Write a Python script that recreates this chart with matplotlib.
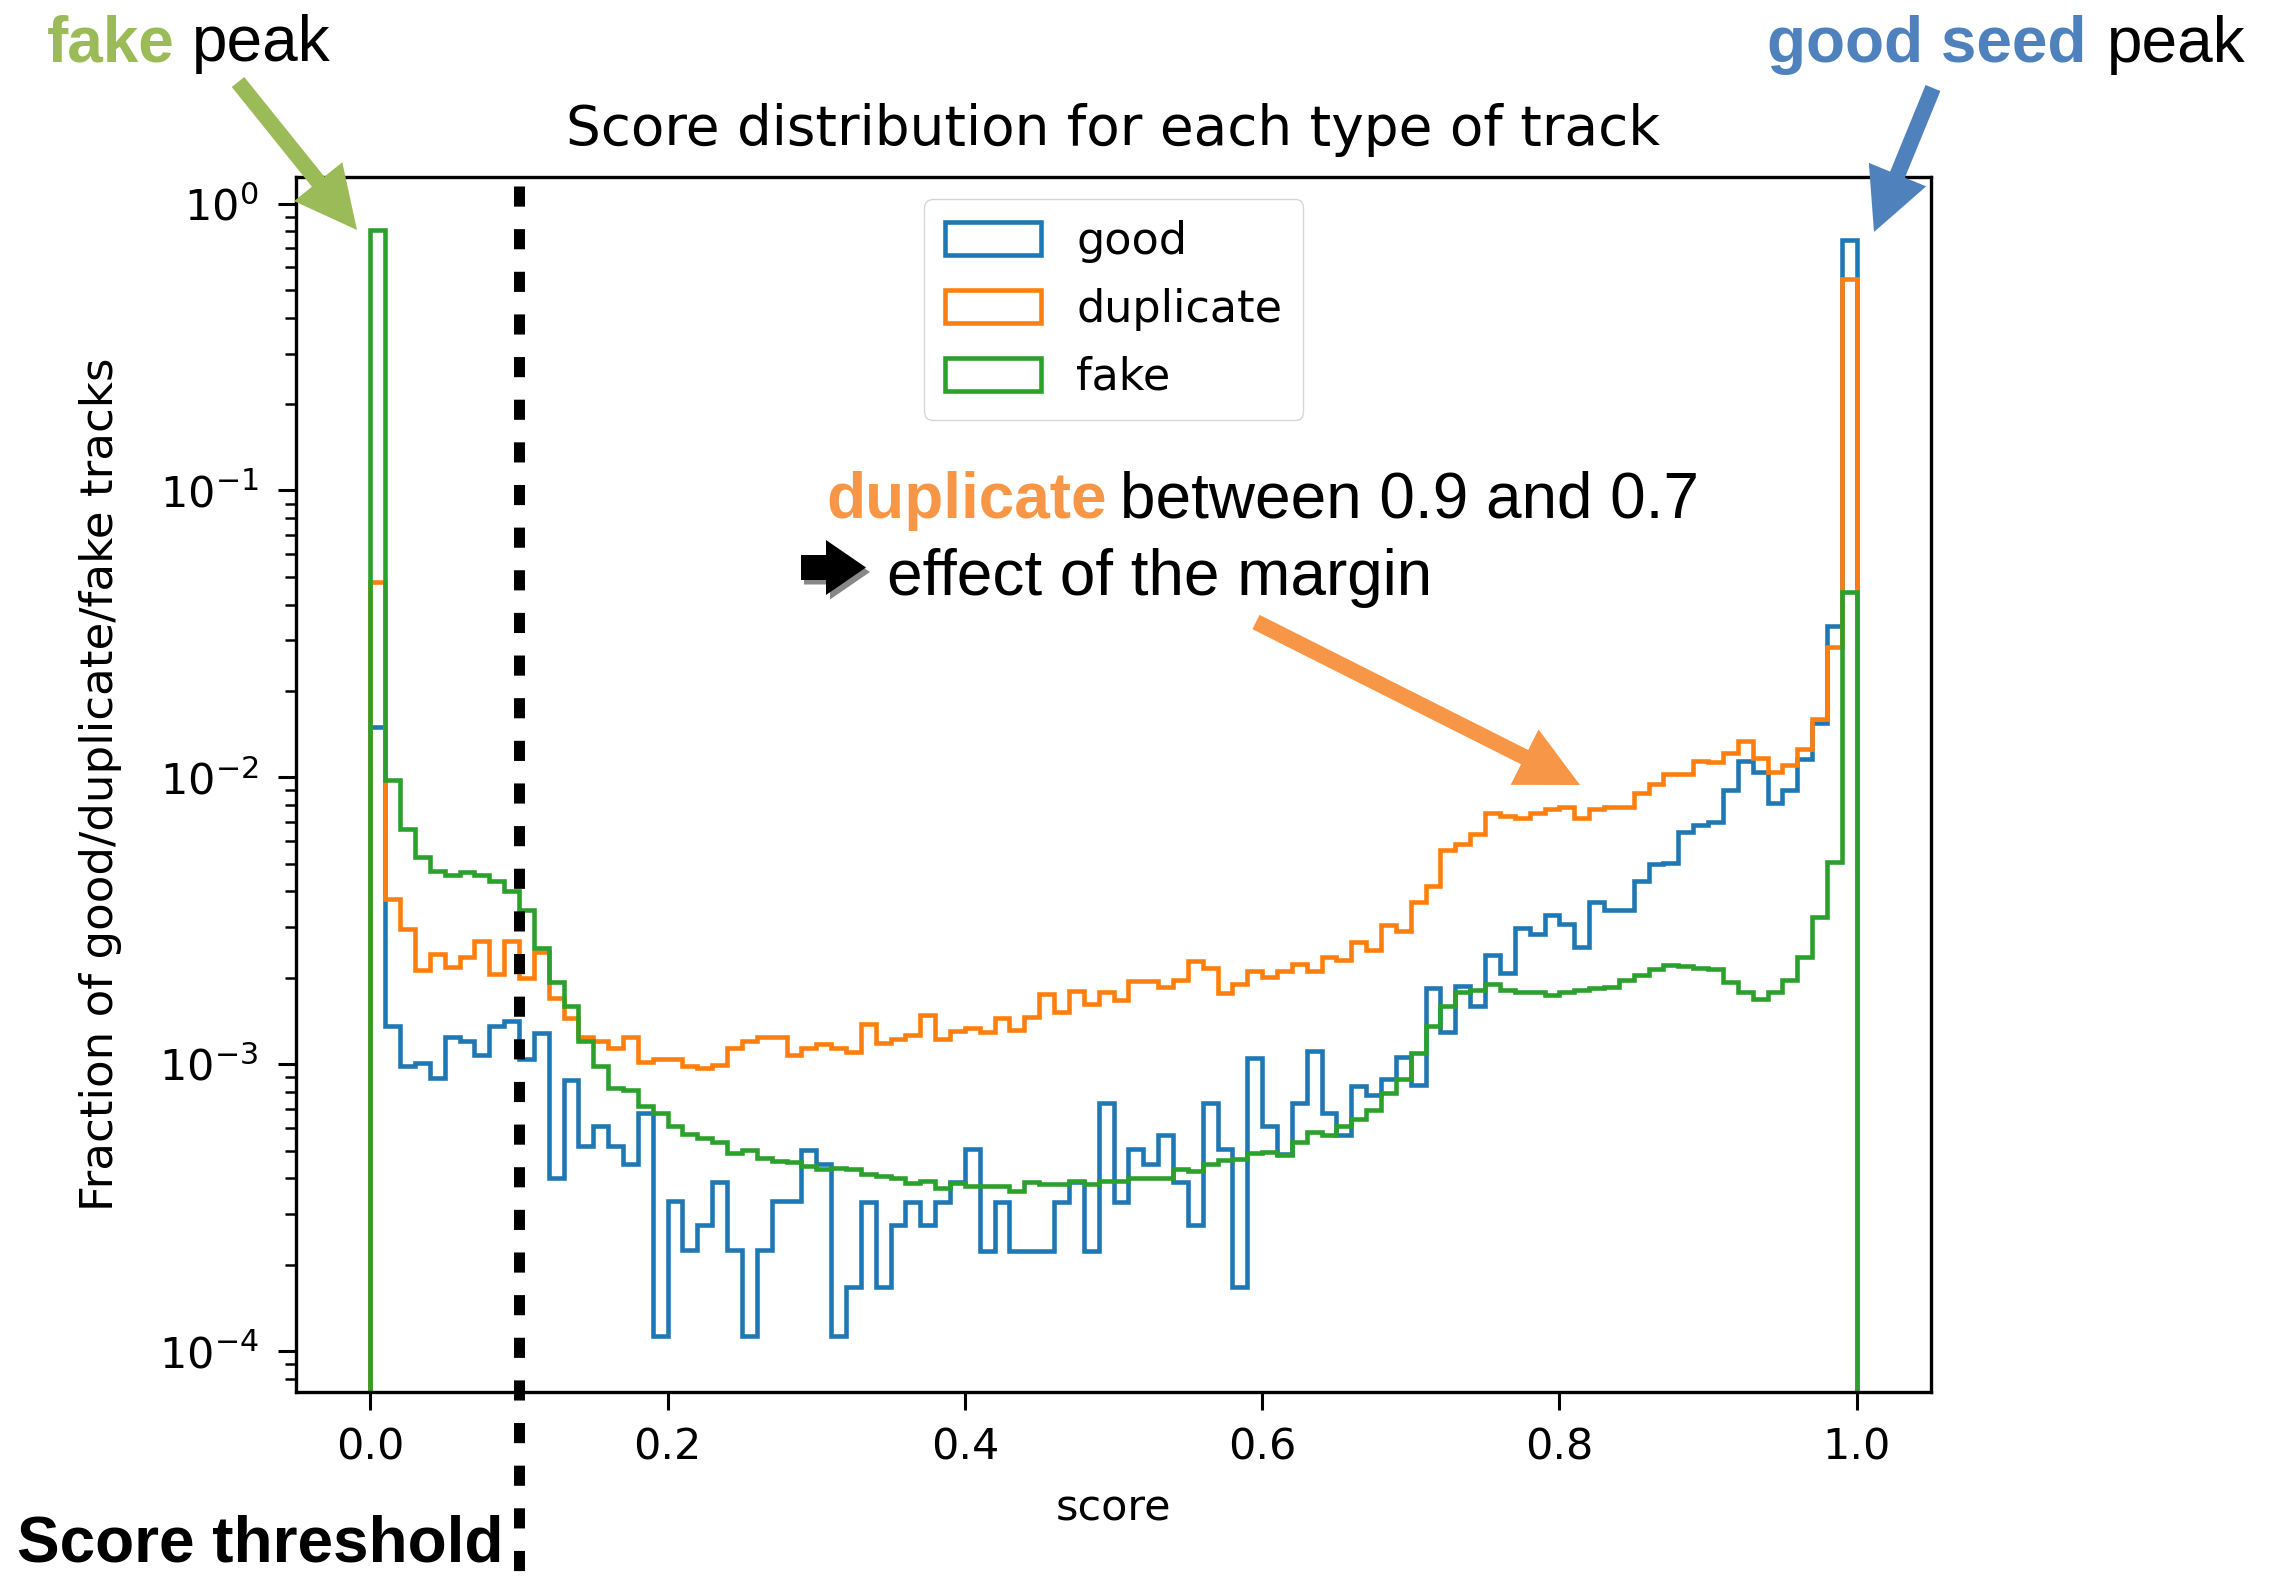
import numpy as np
import matplotlib
matplotlib.use("Agg")
import matplotlib.pyplot as plt
import matplotlib.transforms as mtransforms
from matplotlib.patches import FancyArrow
from matplotlib.lines import Line2D

# ---------------- data ----------------
bin_edges = np.linspace(0.0, 1.0, 101)
series_labels = ["good", "duplicate", "fake"]
threshold = 0.1

good = [
    0.0150, 0.00136, 0.000987, 0.00101, 0.000894, 0.00124, 0.00120, 0.00108, 0.00136, 0.00141,
    0.00104, 0.00128, 0.000400, 0.000878, 0.000517, 0.000608, 0.000517, 0.000448, 0.000678, 0.000113,
    0.000334, 0.000226, 0.000275, 0.000387, 0.000226, 0.000113, 0.000226, 0.000334, 0.000334, 0.000501,
    0.000448, 0.000113, 0.000167, 0.000331, 0.000167, 0.000276, 0.000331, 0.000276, 0.000331, 0.000388,
    0.000508, 0.000223, 0.000331, 0.000223, 0.000223, 0.000223, 0.000331, 0.000388, 0.000223, 0.000731,
    0.000331, 0.000508, 0.000448, 0.000565, 0.000388, 0.000276, 0.000731, 0.000508, 0.000167, 0.00105,
    0.000607, 0.000485, 0.000731, 0.00111, 0.000677, 0.000565, 0.000838, 0.000780, 0.000885, 0.00106,
    0.000849, 0.00184, 0.00129, 0.00188, 0.00160, 0.00241, 0.00208, 0.00298, 0.00284, 0.00330,
    0.00309, 0.00257, 0.00367, 0.00345, 0.00345, 0.00436, 0.00497, 0.00504, 0.00644, 0.00680,
    0.00699, 0.00904, 0.0114, 0.0104, 0.00813, 0.00904, 0.0116, 0.0155, 0.0338, 0.747,
]

duplicate = [
    0.0478, 0.00377, 0.00295, 0.00213, 0.00243, 0.00218, 0.00236, 0.00268, 0.00207, 0.00268,
    0.00200, 0.00246, 0.00170, 0.00145, 0.00124, 0.00120, 0.00114, 0.00124, 0.00102, 0.00104,
    0.00104, 0.000987, 0.000968, 0.000997, 0.00114, 0.00120, 0.00124, 0.00124, 0.00108, 0.00114,
    0.00118, 0.00114, 0.00110, 0.00138, 0.00119, 0.00122, 0.00126, 0.00149, 0.00122, 0.00131,
    0.00134, 0.00129, 0.00145, 0.00132, 0.00146, 0.00175, 0.00152, 0.00180, 0.00162, 0.00178,
    0.00168, 0.00195, 0.00195, 0.00186, 0.00196, 0.00229, 0.00216, 0.00177, 0.00190, 0.00211,
    0.00202, 0.00212, 0.00223, 0.00212, 0.00236, 0.00231, 0.00266, 0.00250, 0.00306, 0.00292,
    0.00367, 0.00419, 0.00558, 0.00587, 0.00636, 0.00748, 0.00734, 0.00719, 0.00748, 0.00773,
    0.00789, 0.00719, 0.00773, 0.00789, 0.00789, 0.00882, 0.00949, 0.0103, 0.0103, 0.0114,
    0.0113, 0.0122, 0.0134, 0.0117, 0.0104, 0.0110, 0.0125, 0.0160, 0.0284, 0.544,
]

fake = [
    0.807, 0.00975, 0.00660, 0.00527, 0.00473, 0.00455, 0.00466, 0.00455, 0.00434, 0.00402,
    0.00346, 0.00255, 0.00194, 0.00159, 0.00120, 0.000988, 0.000823, 0.000813, 0.000715, 0.000678,
    0.000608, 0.000571, 0.000552, 0.000534, 0.000492, 0.000501, 0.000470, 0.000461, 0.000455, 0.000441,
    0.000432, 0.000433, 0.000432, 0.000414, 0.000409, 0.000400, 0.000385, 0.000391, 0.000371, 0.000385,
    0.000377, 0.000377, 0.000377, 0.000361, 0.000388, 0.000381, 0.000381, 0.000391, 0.000381, 0.000391,
    0.000391, 0.000400, 0.000400, 0.000402, 0.000432, 0.000425, 0.000449, 0.000465, 0.000469, 0.000490,
    0.000493, 0.000482, 0.000536, 0.000579, 0.000566, 0.000607, 0.000642, 0.000690, 0.000796, 0.000885,
    0.00109, 0.00136, 0.00160, 0.00178, 0.00181, 0.00191, 0.00181, 0.00179, 0.00178, 0.00174,
    0.00178, 0.00181, 0.00185, 0.00186, 0.00197, 0.00205, 0.00214, 0.00222, 0.00220, 0.00217,
    0.00214, 0.00194, 0.00178, 0.00169, 0.00178, 0.00197, 0.00236, 0.00325, 0.00507, 0.0442,
]

# ---------------- figure ----------------
W, H, DPI = 2276, 1576, 100
fig = plt.figure(figsize=(W / DPI, H / DPI), dpi=DPI, facecolor="white")
# pixel transform (origin top-left, reference pixel units)
pix = mtransforms.Affine2D().scale(1.0 / W, -1.0 / H).translate(0, 1) + fig.transFigure

ax_l, ax_r, ax_t, ax_b = 296, 1931, 176.5, 1391.5
ax = fig.add_axes([ax_l / W, 1 - ax_b / H, (ax_r - ax_l) / W, (ax_b - ax_t) / H])

centers = 0.5 * (bin_edges[:-1] + bin_edges[1:])
for vals, lab, col in zip([good, duplicate, fake], series_labels, ["C0", "C1", "C2"]):
    ax.hist(centers, bins=bin_edges, weights=vals, histtype="step", log=True,
            label=lab, color=col, linewidth=3.3)

ax.set_xlim(-0.05, 1.05)
ax.set_ylim(10 ** ((203.5 - ax_b) / 286.9), 10 ** ((203.5 - ax_t) / 286.9))

for sp in ax.spines.values():
    sp.set_linewidth(2.4)
ax.tick_params(which="major", length=13, width=2.2, labelsize=31)
ax.tick_params(which="minor", length=7.8, width=1.8)
ax.tick_params(axis="x", which="major", pad=12)
ax.tick_params(axis="y", which="major", pad=14)

ax.set_title("Score distribution for each type of track", fontsize=39.5, pad=22.7)
ax.set_xlabel("score", fontsize=31, labelpad=14)
ax.set_ylabel("Fraction of good/duplicate/fake tracks", fontsize=32.5)
ax.yaxis.set_label_coords((122 - ax_l) / (ax_r - ax_l), 0.5)

ax.legend(loc="upper center", fontsize=32, handlelength=2.15, handleheight=0.75,
          labelspacing=0.56, borderpad=0.48, handletextpad=0.8)

# ---------------- annotations ----------------
sans = ["Liberation Sans", "DejaVu Sans"]
green_c, blue_c, orange_c = "#9BBB59", "#4F81BD", "#F79646"
fs = 46

def txt(x, y, s, color="black", bold=False, va="baseline"):
    fig.text(x, y, s, transform=pix, fontsize=fs, family=sans, color=color,
             fontweight="bold" if bold else "normal", ha="left", va=va)

txt(47, 61, "fake", green_c, True)
txt(192, 61, "peak")
txt(1767, 62, "good seed", blue_c, True)
txt(2107, 62, "peak")
txt(826, 518, "duplicate", orange_c, True)
txt(1120, 518, "between 0.9 and 0.7")
txt(887, 595, "effect of the margin")
txt(17, 1575, "Score threshold", bold=True, va="bottom")

def arrow(x0, y0, x1, y1, color, width=16, hw=62, hl=62, z=5):
    a = FancyArrow(x0, y0, x1 - x0, y1 - y0, width=width, head_width=hw, head_length=hl,
                   length_includes_head=True, transform=pix, color=color, lw=0, zorder=z)
    fig.add_artist(a)

arrow(238, 82, 357, 230, green_c)
arrow(1933, 88, 1874, 232, blue_c)
arrow(1256, 622, 1580, 785, orange_c)
# black block arrow with soft shadow
arrow(804, 572, 870, 572, "#888888", width=25, hw=55, hl=40, z=4)
arrow(801, 567.5, 866, 567.5, "black", width=25, hw=55, hl=40, z=5)

# score threshold dashed line
lw_pt = 7.9
thr = Line2D([threshold, threshold], [186, H],
             transform=mtransforms.blended_transform_factory(ax.transData, pix),
             color="black", linewidth=lw_pt, linestyle=(0, (14.5 / lw_pt, 16.2 / lw_pt)),
             clip_on=False, zorder=6)
fig.add_artist(thr)

fig.savefig("out.png", dpi=DPI, facecolor="white")
